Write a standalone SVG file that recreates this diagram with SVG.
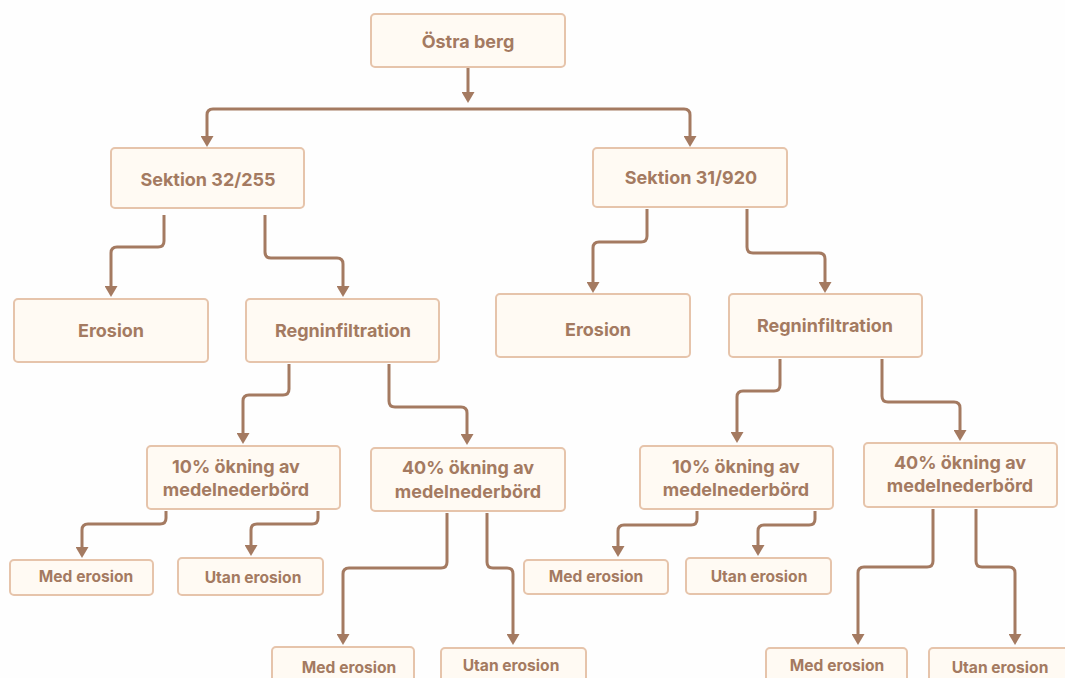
<svg xmlns="http://www.w3.org/2000/svg" width="1065" height="678" viewBox="0 0 1065 678">
<defs>
<style>
.box{fill:#fffaf3;stroke:#e6c4ab;stroke-width:2}
.t{font-family:Inter,"Liberation Sans",sans-serif;font-weight:700;font-size:18px;fill:#a47a61;text-anchor:middle}
.s{font-size:15.6px}
.c{fill:none;stroke:#a47a61;stroke-width:3;stroke-linejoin:round}
</style>
<marker id="ah" viewBox="0 0 11 13" refX="0" refY="6.5" markerWidth="11" markerHeight="13" markerUnits="userSpaceOnUse" orient="auto">
<path d="M0,0 L11,6.5 L0,13 z" fill="#a47a61"/>
</marker>
</defs>
<rect width="1065" height="678" fill="#fefefe"/>
<g id="connectors">
<path class="c" marker-end="url(#ah)" d="M468 68 V92"/>
<path class="c" marker-end="url(#ah)" d="M468 109 H213 Q207 109 207 115 V136"/>
<path class="c" marker-end="url(#ah)" d="M468 109 H684 Q690 109 690 115 V136"/>
<path class="c" marker-end="url(#ah)" d="M164 215 V241 Q164 247 158 247 H117 Q111 247 111 253 V286"/>
<path class="c" marker-end="url(#ah)" d="M265 215 V252 Q265 258 271 258 H337 Q343 258 343 264 V286"/>
<path class="c" marker-end="url(#ah)" d="M647 209 V236 Q647 242 641 242 H599 Q593 242 593 248 V282"/>
<path class="c" marker-end="url(#ah)" d="M747 209 V247 Q747 253 753 253 H819 Q825 253 825 259 V282"/>
<path class="c" marker-end="url(#ah)" d="M289 364 V389 Q289 395 283 395 H249 Q243 395 243 401 V433"/>
<path class="c" marker-end="url(#ah)" d="M389 364 V401 Q389 407 395 407 H461 Q467 407 467 413 V434"/>
<path class="c" marker-end="url(#ah)" d="M780 359 V385 Q780 391 774 391 H743 Q737 391 737 397 V432"/>
<path class="c" marker-end="url(#ah)" d="M882 359 V396 Q882 402 888 402 H954 Q960 402 960 408 V430"/>
<path class="c" marker-end="url(#ah)" d="M166 511 V518 Q166 524 160 524 H88 Q82 524 82 530 V547"/>
<path class="c" marker-end="url(#ah)" d="M318 511 V518 Q318 524 312 524 H257 Q251 524 251 530 V545"/>
<path class="c" marker-end="url(#ah)" d="M447 513 V562 Q447 568 441 568 H349 Q343 568 343 574 V634"/>
<path class="c" marker-end="url(#ah)" d="M487 513 V562 Q487 568 493 568 H507 Q513 568 513 574 V634"/>
<path class="c" marker-end="url(#ah)" d="M697 511 V519 Q697 525 691 525 H624 Q618 525 618 531 V546"/>
<path class="c" marker-end="url(#ah)" d="M815 511 V519 Q815 525 809 525 H764 Q758 525 758 531 V545"/>
<path class="c" marker-end="url(#ah)" d="M933 509 V561 Q933 567 927 567 H864 Q858 567 858 573 V634"/>
<path class="c" marker-end="url(#ah)" d="M976 509 V561 Q976 567 982 567 H1009 Q1015 567 1015 573 V634"/>
</g>
<g id="n1"><rect class="box" x="371" y="14" width="194" height="53" rx="4"/><text class="t" x="468" y="48">Östra berg</text></g>
<g id="n2"><rect class="box" x="111" y="148" width="193" height="60" rx="4"/><text class="t" x="208" y="186">Sektion 32/255</text></g>
<g id="n3"><rect class="box" x="593" y="148" width="194" height="59" rx="4"/><text class="t" x="691" y="184">Sektion 31/920</text></g>
<g id="n4"><rect class="box" x="14" y="299" width="194" height="63" rx="4"/><text class="t" x="111" y="337">Erosion</text></g>
<g id="n5"><rect class="box" x="246" y="299" width="193" height="63" rx="4"/><text class="t" x="343" y="337">Regninfiltration</text></g>
<g id="n6"><rect class="box" x="496" y="294" width="194" height="63" rx="4"/><text class="t" x="598" y="336">Erosion</text></g>
<g id="n7"><rect class="box" x="729" y="294" width="193" height="63" rx="4"/><text class="t" x="825" y="332">Regninfiltration</text></g>
<g id="n8"><rect class="box" x="147" y="446" width="193" height="63" rx="4"/><text class="t" x="236" y="473">10% ökning av</text><text class="t" x="236" y="496">medelnederbörd</text></g>
<g id="n9"><rect class="box" x="371" y="448" width="194" height="63" rx="4"/><text class="t" x="468" y="474">40% ökning av</text><text class="t" x="468" y="498">medelnederbörd</text></g>
<g id="n10"><rect class="box" x="10" y="560" width="143" height="35" rx="4"/><text class="t s" x="86" y="582">Med erosion</text></g>
<g id="n11"><rect class="box" x="178" y="558" width="145" height="37" rx="4"/><text class="t s" x="253" y="583">Utan erosion</text></g>
<g id="n12"><rect class="box" x="640" y="446" width="193" height="63" rx="4"/><text class="t" x="736" y="473">10% ökning av</text><text class="t" x="736" y="496">medelnederbörd</text></g>
<g id="n13"><rect class="box" x="524" y="560" width="144" height="34" rx="4"/><text class="t s" x="596" y="582">Med erosion</text></g>
<g id="n14"><rect class="box" x="686" y="558" width="145" height="36" rx="4"/><text class="t s" x="759" y="582">Utan erosion</text></g>
<g id="n15"><rect class="box" x="864" y="443" width="193" height="64" rx="4"/><text class="t" x="960" y="469">40% ökning av</text><text class="t" x="960" y="492">medelnederbörd</text></g>
<g id="n16"><rect class="box" x="272" y="647" width="142" height="45" rx="4"/><text class="t s" x="349" y="673">Med erosion</text></g>
<g id="n17"><rect class="box" x="441" y="648" width="145" height="45" rx="4"/><text class="t s" x="511" y="671">Utan erosion</text></g>
<g id="n18"><rect class="box" x="766" y="648" width="141" height="45" rx="4"/><text class="t s" x="837" y="671">Med erosion</text></g>
<g id="n19"><rect class="box" x="929" y="648" width="145" height="45" rx="4"/><text class="t s" x="1000" y="673">Utan erosion</text></g>
</svg>
